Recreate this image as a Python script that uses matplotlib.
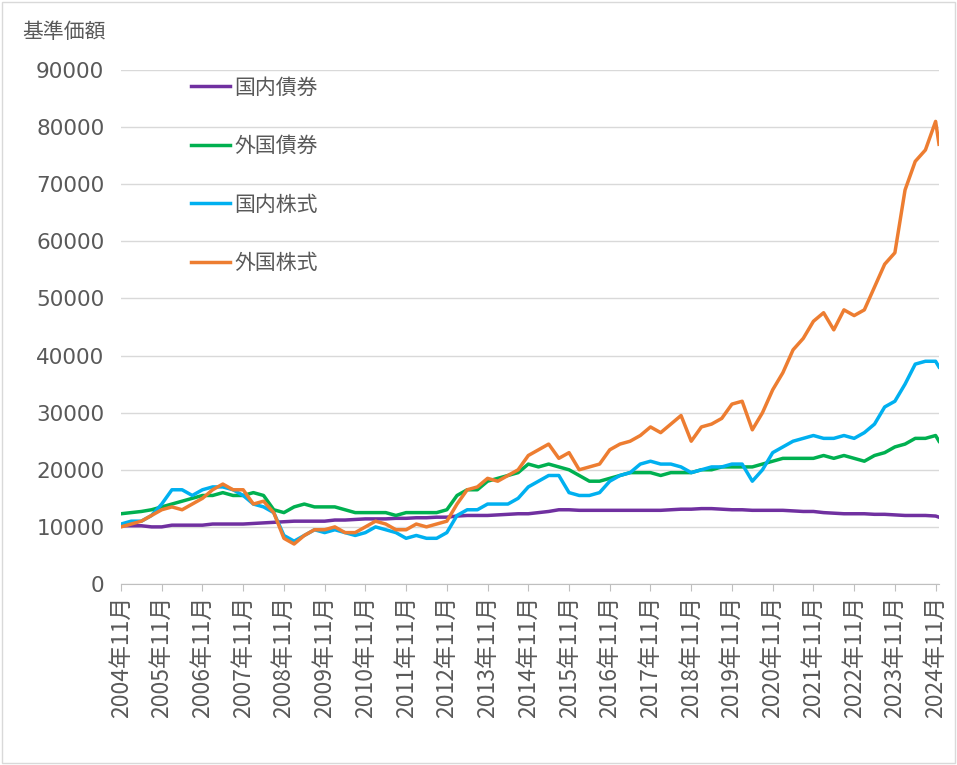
import matplotlib
matplotlib.use("Agg")
import matplotlib.pyplot as plt
from matplotlib.patches import Rectangle

plt.rcParams["font.family"] = "Noto Sans CJK JP"

series_names = ["国内債券", "外国債券", "国内株式", "外国株式"]
colors = ["#7030A0", "#00B050", "#00B0F0", "#ED7D31"]

# months since 2004-11, quarterly, plus final point
months = list(range(0, 241, 3)) + [241]

dom_bond = [10200,
    10200,10200,10000,10000, 10300,10300,10300,10300, 10500,10500,10500,10500,
    10600,10700,10800,10900, 11000,11000,11000,11000, 11200,11200,11300,11400,
    11400,11400,11500,11500, 11600,11600,11700,11700, 11900,12000,12000,12000,
    12100,12200,12300,12300, 12500,12700,13000,13000, 12900,12900,12900,12900,
    12900,12900,12900,12900, 12900,13000,13100,13100, 13200,13200,13100,13000,
    13000,12900,12900,12900, 12900,12800,12700,12700, 12500,12400,12300,12300,
    12300,12200,12200,12100, 12000,12000,12000,11900, 11700]

for_bond = [12300,
    12500,12700,13000,13500, 14000,14500,15000,15500, 15500,16000,15500,15500,
    16000,15500,13000,12500, 13500,14000,13500,13500, 13500,13000,12500,12500,
    12500,12500,12000,12500, 12500,12500,12500,13000, 15500,16500,16500,18000,
    18500,19000,19500,21000, 20500,21000,20500,20000, 19000,18000,18000,18500,
    19000,19500,19500,19500, 19000,19500,19500,19500, 20000,20000,20500,20500,
    20500,20500,21000,21500, 22000,22000,22000,22000, 22500,22000,22500,22000,
    21500,22500,23000,24000, 24500,25500,25500,26000, 25000]

dom_stock = [10500,
    11000,11000,12000,14000, 16500,16500,15500,16500, 17000,17000,16500,15500,
    14000,13500,12500,8500, 7500,8500,9500,9000, 9500,9000,8500,9000,
    10000,9500,9000,8000, 8500,8000,8000,9000, 12000,13000,13000,14000,
    14000,14000,15000,17000, 18000,19000,19000,16000, 15500,15500,16000,18000,
    19000,19500,21000,21500, 21000,21000,20500,19500, 20000,20500,20500,21000,
    21000,18000,20000,23000, 24000,25000,25500,26000, 25500,25500,26000,25500,
    26500,28000,31000,32000, 35000,38500,39000,39000, 38000]

for_stock = [10000,
    10500,11000,12000,13000, 13500,13000,14000,15000, 16500,17500,16500,16500,
    14000,14500,12500,8000, 7000,8500,9500,9500, 10000,9000,9000,10000,
    11000,10500,9500,9500, 10500,10000,10500,11000, 14000,16500,17000,18500,
    18000,19000,20000,22500, 23500,24500,22000,23000, 20000,20500,21000,23500,
    24500,25000,26000,27500, 26500,28000,29500,25000, 27500,28000,29000,31500,
    32000,27000,30000,34000, 37000,41000,43000,46000, 47500,44500,48000,47000,
    48000,52000,56000,58000, 69000,74000,76000,81000, 77000]

tick_months = list(range(0, 241, 12))
tick_labels = [f"{2004+i}年11月" for i in range(len(tick_months))]
y_ticks = list(range(0, 90001, 10000))

fig = plt.figure(figsize=(9.57, 7.65), dpi=100)
ax = fig.add_axes([121/957, 1-584/765, (939-121)/957, (584-70)/765])
gray = "#595959"
for name, c, vals in zip(series_names, colors, [dom_bond, for_bond, dom_stock, for_stock]):
    ax.plot(months[:len(vals)], vals, color=c, lw=2.5, label=name)

ax.set_xlim(0, 241)
ax.set_ylim(0, 90000)
ax.set_yticks(y_ticks)
ax.set_yticklabels([str(v) for v in y_ticks], fontsize=15.5, color=gray, family="DejaVu Sans")
ax.set_xticks(tick_months)
ax.set_xticklabels(tick_labels, rotation=90, fontsize=16.5, color=gray)
ax.grid(axis="y", color="#D9D9D9", lw=1)
ax.set_axisbelow(True)
for s in ["top", "right", "left"]:
    ax.spines[s].set_visible(False)
ax.spines["bottom"].set_color("#BFBFBF")
ax.tick_params(axis="y", length=0, pad=12)
ax.tick_params(axis="x", color="#BFBFBF", length=5)

fig.text(22/957, 1-32/765, "基準価額", fontsize=15, color=gray, va="center")
fig.legend(loc="upper left", bbox_to_anchor=(172/957, 1-58/765), frameon=False,
           fontsize=15, labelspacing=1.75, handlelength=1.9, handletextpad=0.2,
           labelcolor=gray)
fig.patches.append(Rectangle((0.002, 0.002), 0.996, 0.996, transform=fig.transFigure,
                             fill=False, edgecolor="#D9D9D9", lw=1))
fig.savefig("out.png", dpi=100)
